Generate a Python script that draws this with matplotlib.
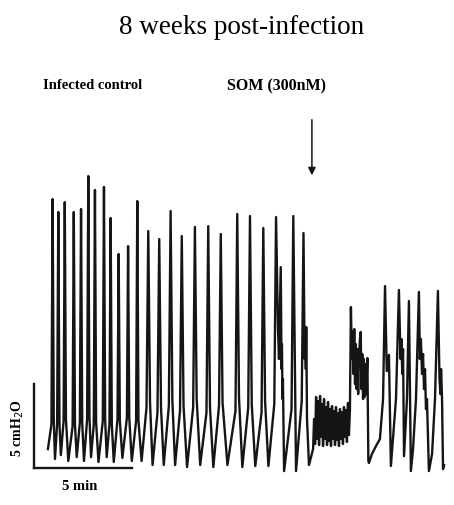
import matplotlib
matplotlib.use("Agg")
import matplotlib.pyplot as plt
import numpy as np

# recording: time in min, pressure in cmH2O above the scale bar baseline

# control contractions (before SOM)
peak_t = [0.95, 1.24, 1.57, 2.03, 2.40, 2.77, 3.11, 3.57, 3.91, 4.32, 4.80, 5.27,
          5.83, 6.39, 6.97, 7.54, 8.21, 8.89, 9.53, 10.37, 11.02, 11.70, 12.35,
          13.23, 13.75]
peak_p = [16.01, 15.24, 15.83, 15.24, 15.42, 17.38, 16.55, 16.73, 14.88, 12.74, 13.21,
          15.89, 14.11, 13.63, 15.30, 13.81, 14.35, 14.40, 13.93, 15.12, 15.00, 14.29,
          14.94, 15.00, 13.99]
trough_t = [0.71, 1.07, 1.37, 1.75, 2.18, 2.55, 2.91, 3.29, 3.71, 4.07, 4.51, 4.99,
            5.49, 6.05, 6.62, 7.20, 7.81, 8.48, 9.15, 9.87, 10.63, 11.29, 11.96,
            12.76, 13.37, 14.03]
trough_p = [1.13, 0.54, 0.77, 0.42, 0.65, 0.42, 0.65, 0.36, 0.65, 0.36, 0.60, 0.42,
            0.42, 0.18, 0.18, 0.18, 0.06, 0.18, 0.06, 0.18, 0.06, 0.12, 0.12,
            -0.18, -0.18, 0.18]
# slow foot before each upstroke
foot_t = [0.89, 1.18, 1.51, 1.97, 2.34, 2.71, 3.05, 3.51, 3.85, 4.26, 4.74, 5.21,
          5.74, 6.30, 6.88, 7.45, 8.12, 8.80, 9.44, 10.28, 10.93, 11.61, 12.26,
          13.14, 13.66]
foot_p = [2.6, 2.6, 2.8, 2.5, 2.7, 2.9, 2.6, 2.8, 2.6, 2.9, 3.0, 2.8,
          3.6, 3.3, 3.7, 3.4, 3.6, 3.3, 3.7, 3.4, 3.6, 3.3, 3.8,
          3.5, 4.0]
# knee on the falling limb
knee_t = [1.01, 1.30, 1.63, 2.09, 2.46, 2.83, 3.17, 3.63, 3.97, 4.38, 4.86, 5.33,
          5.92, 6.48, 7.06, 7.63, 8.30, 8.98, 9.62, 10.46, 11.11, 11.79]
knee_p = [2.8, 2.6, 2.9, 2.6, 2.7, 3.0, 2.7, 2.9, 2.6, 2.8, 3.0, 2.8,
          3.9, 3.6, 4.0, 3.7, 4.1, 3.6, 3.9, 4.2, 3.8, 4.0]
# double spikes just before SOM
extra_t = [12.45, 12.50, 12.59, 12.63, 12.65, 12.68, 12.70,
           13.81, 13.84, 13.87, 13.89, 13.93]
extra_p = [8.27, 6.49, 11.96, 5.89, 7.38, 4.11, 5.30,
           6.49, 7.98, 5.89, 8.39, 2.92]

# low amplitude fast activity right after SOM (sampled every ~3 s)
plateau_p = [1.13, 2.92, 1.43, 4.23, 1.73, 3.99, 1.37, 4.29, 1.85, 3.81,
             1.31, 4.11, 1.73, 3.63, 1.37, 3.93, 1.61, 3.51, 1.31, 3.69,
             1.73, 3.39, 1.37, 3.63, 1.67, 3.27, 1.31, 3.51, 1.73, 3.33,
             1.43, 3.63, 1.85, 3.45, 1.55, 3.87, 1.96, 3.51]
plateau_t = np.linspace(14.24, 16.12, len(plateau_p))

# recovery of contractions
late_t = [16.17, 16.22, 16.26, 16.30, 16.34, 16.38, 16.42, 16.46, 16.50, 16.54,
          16.58, 16.63, 16.67, 16.71, 16.75, 16.79, 16.83, 16.87, 16.91, 16.95,
          17.01, 17.06, 17.09, 17.24, 17.45, 17.65, 17.81, 17.91, 18.00, 18.11,
          18.21, 18.47, 18.62, 18.70, 18.75, 18.79, 18.83, 18.88, 18.95, 19.03,
          19.13, 19.23, 19.34, 19.49, 19.64, 19.69, 19.74, 19.80, 19.85, 19.90,
          19.95, 20.00, 20.05, 20.15, 20.31, 20.46, 20.61, 20.69, 20.74, 20.77,
          20.82, 20.87, 20.92]
late_p = [9.58, 6.49, 8.15, 5.60, 8.27, 5.00, 7.38, 4.70, 7.08, 4.40,
          6.49, 7.68, 8.10, 4.70, 6.79, 4.11, 6.49, 4.23, 6.19, 4.40,
          6.55, 0.42, 0.30, 0.83, 1.31, 1.73, 4.11, 10.83, 5.77, 6.73,
          0.12, 4.11, 10.60, 6.49, 7.68, 5.60, 7.08, 0.71, 2.32, 4.11,
          9.94, -0.18, 1.13, 4.11, 10.48, 6.49, 7.68, 5.60, 6.79, 4.70,
          5.89, 3.51, 4.11, -0.18, 0.83, 4.11, 10.54, 5.30, 4.40, 5.89,
          4.11, -0.06, 0.18]

som_time = 14.18

ct = np.concatenate([peak_t, trough_t, foot_t, knee_t, extra_t])
cp = np.concatenate([peak_p, trough_p, foot_p, knee_p, extra_p])
order = np.argsort(ct)
t = np.concatenate([ct[order], plateau_t, late_t])
p = np.concatenate([cp[order], plateau_p, late_p])

fig = plt.figure(figsize=(4.54, 5.06), dpi=100)
ax = fig.add_axes([0, 0, 1, 1])
ax.set_xlim(-1.735, 21.43)
ax.set_ylim(-2.20, 27.92)
ax.axis("off")

ax.plot(t, p, color="#151515", lw=1.7)

# scale bars: 5 min and 5 cmH2O
ax.plot([0, 5], [0, 0], color="#151515", lw=1.7)
ax.plot([0, 0], [0, 5], color="#151515", lw=1.7)

ax.annotate("", xy=(som_time, 17.26), xytext=(som_time, 20.9),
            arrowprops=dict(arrowstyle="-|>", color="#151515", lw=1.1, mutation_scale=11))

serif = "Liberation Serif"
fig.text(0.533, 0.945, "8 weeks post-infection", ha="center", va="center",
         fontsize=19.5, family=serif)
fig.text(0.204, 0.832, "Infected control", ha="center", va="center",
         fontsize=10.5, family=serif, weight="bold")
fig.text(0.608, 0.830, "SOM (300nM)", ha="center", va="center",
         fontsize=11.5, family=serif, weight="bold")
fig.text(0.040, 0.154, "5 cmH$_2$O", ha="center", va="center", rotation=90,
         fontsize=10, family=serif, weight="bold")
fig.text(0.176, 0.038, "5 min", ha="center", va="center",
         fontsize=10.5, family=serif, weight="bold")

fig.savefig("out.png", dpi=100)
